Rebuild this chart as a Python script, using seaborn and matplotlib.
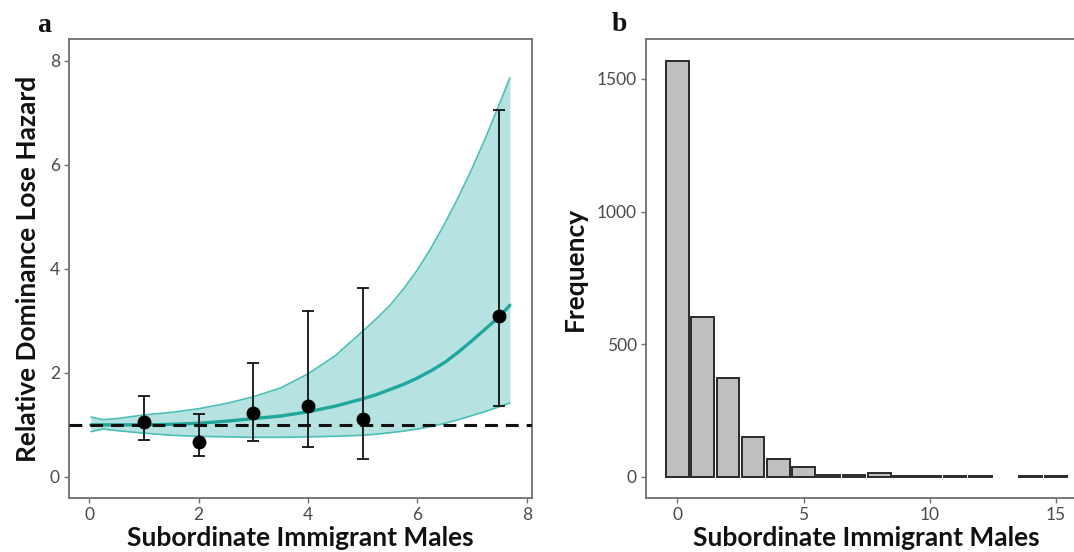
import numpy as np
import pandas as pd
import matplotlib
matplotlib.use("Agg")
import matplotlib.pyplot as plt
import seaborn as sns

# ---------------- data: panel a ----------------
grid_x = [0.03, 0.25, 0.5, 1.0, 1.5, 2.0, 2.5, 3.0, 3.5, 4.0, 4.5, 5.0, 5.25, 5.5, 5.75, 6.0,
          6.25, 6.5, 6.75, 7.0, 7.25, 7.5, 7.69]
upper = [1.15, 1.10, 1.12, 1.19, 1.24, 1.31, 1.41, 1.54, 1.71, 1.98, 2.33, 2.80, 3.04, 3.30,
         3.62, 3.98, 4.40, 4.87, 5.38, 5.93, 6.53, 7.17, 7.67]
mean = [1.00, 1.00, 1.00, 1.00, 1.01, 1.03, 1.07, 1.12, 1.17, 1.25, 1.36, 1.50, 1.58, 1.68,
        1.78, 1.90, 2.04, 2.20, 2.40, 2.62, 2.85, 3.08, 3.30]
lower = [0.87, 0.92, 0.89, 0.84, 0.80, 0.78, 0.77, 0.76, 0.76, 0.77, 0.78, 0.80, 0.82, 0.85,
         0.88, 0.92, 0.97, 1.03, 1.10, 1.18, 1.26, 1.35, 1.42]

pt_x = [1, 2, 3, 4, 5, 7.5]
pt_y = [1.06, 0.67, 1.23, 1.36, 1.12, 3.09]
pt_lo = [0.71, 0.40, 0.69, 0.58, 0.35, 1.37]
pt_hi = [1.56, 1.21, 2.19, 3.19, 3.63, 7.05]

# ---------------- data: panel b ----------------
hist_x = [0, 1, 2, 3, 4, 5, 6, 7, 8, 9, 10, 11, 12, 14, 15]
hist_n = [1568, 603, 374, 150, 68, 37, 8, 8, 15, 5, 2, 2, 2, 2, 2]

sns.set_theme(style="white")
plt.rcParams["font.family"] = ["Lato", "DejaVu Sans"]

W, H = 1074, 552
fig = plt.figure(figsize=(W / 100, H / 100), dpi=100)

def ax_rect(l, t, r, b):
    return [l / W, 1 - b / H, (r - l) / W, (b - t) / H]

tick_color = "#4a4a4a"
spine_color = "#6e6e6e"

def style_axes(ax):
    for s in ax.spines.values():
        s.set_color(spine_color)
        s.set_linewidth(1.3)
    ax.tick_params(axis="both", which="major", length=3.5, width=1.0,
                   color=spine_color, labelsize=12.5, labelcolor=tick_color,
                   pad=3, bottom=True, left=True)

# ---------------- panel a ----------------
ax1 = fig.add_axes(ax_rect(69, 39.3, 532.3, 497.7))
teal_fill = "#b6e3e1"
teal_edge = "#4cbfb7"
teal_line = "#1fa79c"

ax1.fill_between(grid_x, lower, upper, color=teal_fill, linewidth=0, zorder=1)
band = pd.DataFrame({"x": grid_x, "upper": upper, "lower": lower, "mean": mean})
sns.lineplot(data=band, x="x", y="upper", ax=ax1, color=teal_edge, linewidth=1.2, zorder=2)
sns.lineplot(data=band, x="x", y="lower", ax=ax1, color=teal_edge, linewidth=1.2, zorder=2)
sns.lineplot(data=band, x="x", y="mean", ax=ax1, color=teal_line, linewidth=2.4, zorder=3)

ax1.axhline(1.0, color="#111111", linewidth=2.2, linestyle=(0, (4.2, 2.6)), zorder=4)

yerr = [np.array(pt_y) - np.array(pt_lo), np.array(pt_hi) - np.array(pt_y)]
ax1.errorbar(pt_x, pt_y, yerr=yerr, fmt="none", ecolor="#111111", elinewidth=1.3,
             capsize=4, capthick=1.3, zorder=5)
sns.scatterplot(x=pt_x, y=pt_y, ax=ax1, color="black", s=100, edgecolor="black",
                linewidth=0, zorder=6)

ax1.set_xlim(-0.37, 8.10)
ax1.set_ylim(-0.40, 8.41)
ax1.set_xticks([0, 2, 4, 6, 8])
ax1.set_yticks([0, 2, 4, 6, 8])
style_axes(ax1)
ax1.set_xlabel("Subordinate Immigrant Males", fontsize=19, fontweight="bold",
               color="#111111", labelpad=2)
ax1.set_ylabel("Relative Dominance Lose Hazard", fontsize=19, fontweight="bold",
               color="#111111", labelpad=7)

# ---------------- panel b ----------------
ax2 = fig.add_axes(ax_rect(646, 39.3, 1087.3, 497.7))
sns.barplot(x=hist_x, y=hist_n, ax=ax2, native_scale=True, width=0.9,
            color="#bfbfbf", saturation=1, edgecolor="#2a2a2a", linewidth=1.4)
ax2.set_xlim(-1.245, 16.245)
ax2.set_ylim(-78, 1649)
ax2.set_xticks([0, 5, 10, 15])
ax2.set_yticks([0, 500, 1000, 1500])
style_axes(ax2)
ax2.set_xlabel("Subordinate Immigrant Males", fontsize=19, fontweight="bold",
               color="#111111", labelpad=2)
ax2.set_ylabel("Frequency", fontsize=19, fontweight="bold", color="#111111", labelpad=7)

# panel letters
fig.text(37 / W, 1 - 32 / H, "a", fontsize=20, fontweight="bold",
         family=["Liberation Serif", "DejaVu Serif"], color="#111111")
fig.text(612 / W, 1 - 31 / H, "b", fontsize=20, fontweight="bold",
         family=["Liberation Serif", "DejaVu Serif"], color="#111111")

fig.savefig("out.png", dpi=100)
